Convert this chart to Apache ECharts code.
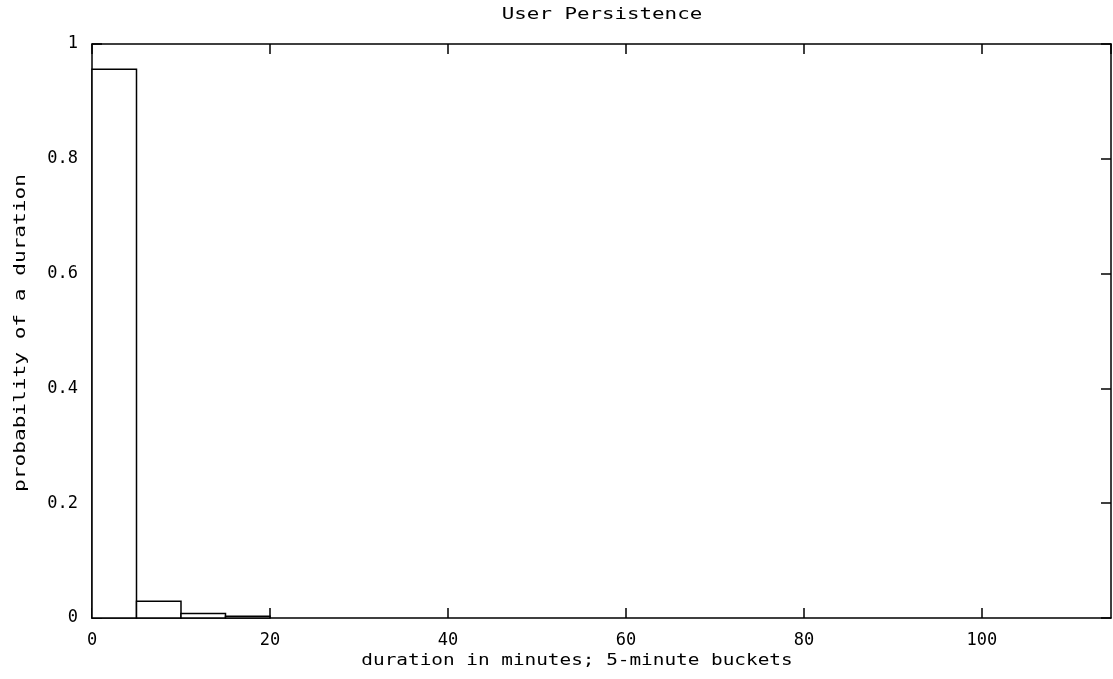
<!DOCTYPE html>
<html>
<head>
<meta charset="utf-8">
<script src="https://cdn.jsdelivr.net/npm/echarts@6/dist/echarts.min.js"></script>
<style>html,body{margin:0;padding:0;background:#fff;}#c{width:1113px;height:679px;}</style>
</head>
<body>
<div id="c"></div>
<script>
var bucketStart = [0, 5, 10, 15];
var bucketWidth = 5;
var probability = [0.956, 0.029, 0.008, 0.003];
var xTicks = [0, 20, 40, 60, 80, 100];
var yTicks = [0, 0.2, 0.4, 0.6, 0.8, 1];

var FONT = 'DejaVu Sans Mono';
var chart = echarts.init(document.getElementById('c'), null, {renderer: 'canvas'});
var data = bucketStart.map(function (s, i) { return [s, s + bucketWidth, probability[i]]; });

function yFmt(v) { return String(Math.round(v * 10) / 10); }

function axisCommon() {
  return {
    axisLine: {show: true, onZero: false, lineStyle: {color: '#000', width: 1.5}},
    axisTick: {show: true, inside: true, length: 10, lineStyle: {color: '#000', width: 1.5}},
    splitLine: {show: false}
  };
}

chart.setOption({
  backgroundColor: '#fff',
  animation: false,
  grid: {left: 92, right: 2, top: 44, bottom: 61},
  xAxis: [
    Object.assign({type: 'value', min: 0, max: 114.5, interval: 20, position: 'bottom',
      axisLabel: {show: true, margin: 14, color: '#000', fontFamily: FONT, fontSize: 17,
        showMaxLabel: false,
        formatter: function (v) { return xTicks.indexOf(v) >= 0 ? String(v) : ''; }}
    }, axisCommon()),
    Object.assign({type: 'value', min: 0, max: 114.5, interval: 20, position: 'top',
      axisLabel: {show: false}}, axisCommon())
  ],
  yAxis: [
    Object.assign({type: 'value', min: 0, max: 1, interval: 0.2, position: 'left',
      axisLabel: {show: true, margin: 14, color: '#000', fontFamily: FONT, fontSize: 17,
        formatter: function (v) { return yFmt(v); }}
    }, axisCommon()),
    Object.assign({type: 'value', min: 0, max: 1, interval: 0.2, position: 'right',
      axisLabel: {show: false}}, axisCommon())
  ],
  graphic: [
    {type: 'text', x: 602, y: 15, scaleX: 1.3,
      style: {text: 'User Persistence', font: '16px "' + FONT + '"', fill: '#000',
        textAlign: 'center', textVerticalAlign: 'middle'}},
    {type: 'text', x: 577, y: 661, scaleX: 1.21,
      style: {text: 'duration in minutes; 5-minute buckets', font: '16px "' + FONT + '"', fill: '#000',
        textAlign: 'center', textVerticalAlign: 'middle'}},
    {type: 'text', x: 21, y: 333, rotation: Math.PI / 2, scaleX: 1.32,
      style: {text: 'probability of a duration', font: '16px "' + FONT + '"', fill: '#000',
        textAlign: 'center', textVerticalAlign: 'middle'}}
  ],
  series: [{
    type: 'custom',
    xAxisIndex: 0, yAxisIndex: 0,
    data: data,
    renderItem: function (params, api) {
      var p0 = api.coord([api.value(0), 0]);
      var p1 = api.coord([api.value(1), api.value(2)]);
      return {
        type: 'rect',
        shape: {x: p0[0], y: p1[1], width: p1[0] - p0[0], height: p0[1] - p1[1]},
        style: {fill: '#fff', stroke: '#000', lineWidth: 1.5}
      };
    }
  }]
});
</script>
</body>
</html>
